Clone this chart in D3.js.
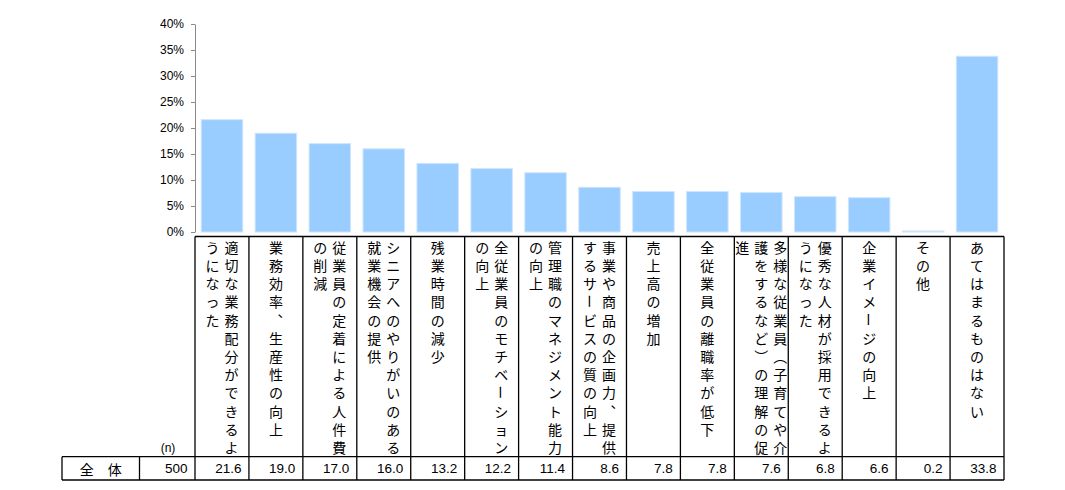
<!DOCTYPE html>
<html>
<head>
<meta charset="utf-8">
<script src="https://cdn.jsdelivr.net/npm/d3@7"></script>
<style>
  body { margin: 0; background: #fff; }
</style>
</head>
<body>
<div class="canvas"></div>
<script>
// data
const categories = [
  "適切な業務配分ができるようになった",
  "業務効率、生産性の向上",
  "従業員の定着による人件費の削減",
  "シニアへのやりがいのある就業機会の提供",
  "残業時間の減少",
  "全従業員のモチベーションの向上",
  "管理職のマネジメント能力の向上",
  "事業や商品の企画力、提供するサービスの質の向上",
  "売上高の増加",
  "全従業員の離職率が低下",
  "多様な従業員（子育てや介護をするなど）の理解の促進",
  "優秀な人材が採用できるようになった",
  "企業イメージの向上",
  "その他",
  "あてはまるものはない"
];
// vertical label columns (right to left)
const labelColumns = [
  ["適切な業務配分ができるよ", "うになった"],
  ["業務効率、生産性の向上"],
  ["従業員の定着による人件費", "の削減"],
  ["シニアへのやりがいのある", "就業機会の提供"],
  ["残業時間の減少"],
  ["全従業員のモチベーション", "の向上"],
  ["管理職のマネジメント能力", "の向上"],
  ["事業や商品の企画力、提供", "するサービスの質の向上"],
  ["売上高の増加"],
  ["全従業員の離職率が低下"],
  ["多様な従業員（子育てや介", "護をするなど）の理解の促", "進"],
  ["優秀な人材が採用できるよ", "うになった"],
  ["企業イメージの向上"],
  ["その他"],
  ["あてはまるものはない"]
];
const values = [21.6, 19.0, 17.0, 16.0, 13.2, 12.2, 11.4, 8.6, 7.8, 7.8, 7.6, 6.8, 6.6, 0.2, 33.8];
const rowLabel = "全　体";
const totalN = 500;
const yTicks = [0, 5, 10, 15, 20, 25, 30, 35, 40];

const width = 1065;
const height = 490;
const plotLeft = 195, plotRight = 1004;
const plotTop = 24, plotBase = 232;
const headTop = 236.5, rowTop = 456.7, rowBottom = 480;
const tableLeft = 62, nDivider = 139.5;

const cjk = "'Noto Sans CJK JP', sans-serif";
const latin = "'Liberation Sans', Arial, sans-serif";

const svg = d3
  .select(".canvas")
  .append("svg")
  .attr("width", width)
  .attr("height", height);

// scales
const x = d3.scaleBand().domain(categories).range([plotLeft, plotRight]).paddingInner(0.23).paddingOuter(0.115);
const col = d3.scaleBand().domain(categories).range([plotLeft, plotRight]);
const y = d3.scaleLinear().domain([0, 40]).range([plotBase, plotTop]);

// y axis
const yAxis = d3
  .axisLeft(y)
  .tickValues(yTicks)
  .tickSize(4)
  .tickSizeOuter(0)
  .tickPadding(7)
  .tickFormat((d) => d + "%");

const yAxisGroup = svg
  .append("g")
  .attr("transform", `translate(${plotLeft}, 0)`)
  .call(yAxis);

yAxisGroup.select(".domain").attr("stroke", "#8a8a8a");
yAxisGroup.selectAll(".tick line").attr("stroke", "#8a8a8a");
yAxisGroup
  .selectAll(".tick text")
  .attr("fill", "#000")
  .style("font-family", latin)
  .style("font-size", "12px");

// bars
svg
  .selectAll(".bar")
  .data(values)
  .enter()
  .append("rect")
  .attr("class", "bar")
  .attr("x", (d, i) => x(categories[i]))
  .attr("y", (d) => y(d))
  .attr("width", x.bandwidth())
  .attr("height", (d) => y(0) - y(d))
  .attr("fill", "#99ccff")
  .attr("stroke", "#cfe6ff")
  .attr("stroke-width", 1);

// table lines
const lines = svg.append("g").attr("stroke", "#000").attr("stroke-width", 1.3);
const step = col.step();

lines.append("line").attr("x1", plotLeft).attr("x2", plotRight).attr("y1", headTop).attr("y2", headTop);
lines.append("line").attr("x1", tableLeft).attr("x2", plotRight).attr("y1", rowTop).attr("y2", rowTop);
lines.append("line").attr("x1", tableLeft).attr("x2", plotRight).attr("y1", rowBottom).attr("y2", rowBottom);

const bounds = categories.map((c) => col(c)).concat([plotRight]);
lines
  .selectAll(".vline")
  .data(bounds)
  .enter()
  .append("line")
  .attr("x1", (d) => d)
  .attr("x2", (d) => d)
  .attr("y1", headTop)
  .attr("y2", rowBottom);

[tableLeft, nDivider].forEach((px) => {
  lines.append("line").attr("x1", px).attr("x2", px).attr("y1", rowTop).attr("y2", rowBottom);
});

// vertical labels, one glyph per cell
const vertForms = { "、": "︑", "（": "︵", "）": "︶" };
const colGap = 19;
const charStep = 18.2;
const firstChar = 246.7;

const labels = svg.append("g").style("font-family", cjk).style("font-size", "14px").attr("fill", "#000");

labelColumns.forEach((cols, i) => {
  const cx = col(categories[i]) + step / 2;
  const n = cols.length;
  cols.forEach((line, j) => {
    const lx = cx + ((n - 1) / 2 - j) * colGap;
    Array.from(line).forEach((ch, k) => {
      const py = firstChar + k * charStep;
      const t = labels
        .append("text")
        .attr("x", lx)
        .attr("y", py)
        .attr("text-anchor", "middle")
        .attr("dominant-baseline", "central")
        .text(vertForms[ch] || ch);
      if (ch === "ー") t.attr("transform", `rotate(90, ${lx}, ${py})`);
    });
  });
});

// table row
svg
  .append("text")
  .attr("x", 168)
  .attr("y", 448)
  .attr("text-anchor", "middle")
  .attr("dominant-baseline", "central")
  .style("font-family", latin)
  .style("font-size", "12px")
  .text("(n)");

const rowMid = (rowTop + rowBottom) / 2 + 0.5;

svg
  .append("text")
  .attr("x", (tableLeft + nDivider) / 2)
  .attr("y", rowMid)
  .attr("text-anchor", "middle")
  .attr("dominant-baseline", "central")
  .style("font-family", cjk)
  .style("font-size", "14px")
  .text(rowLabel);

svg
  .append("text")
  .attr("x", plotLeft - 7.5)
  .attr("y", rowMid)
  .attr("text-anchor", "end")
  .attr("dominant-baseline", "central")
  .style("font-family", latin)
  .style("font-size", "13.5px")
  .text(totalN);

svg
  .selectAll(".val")
  .data(values)
  .enter()
  .append("text")
  .attr("class", "val")
  .attr("x", (d, i) => col(categories[i]) + step - 7.5)
  .attr("y", rowMid)
  .attr("text-anchor", "end")
  .attr("dominant-baseline", "central")
  .style("font-family", latin)
  .style("font-size", "13.5px")
  .text((d) => d.toFixed(1));
</script>
</body>
</html>
